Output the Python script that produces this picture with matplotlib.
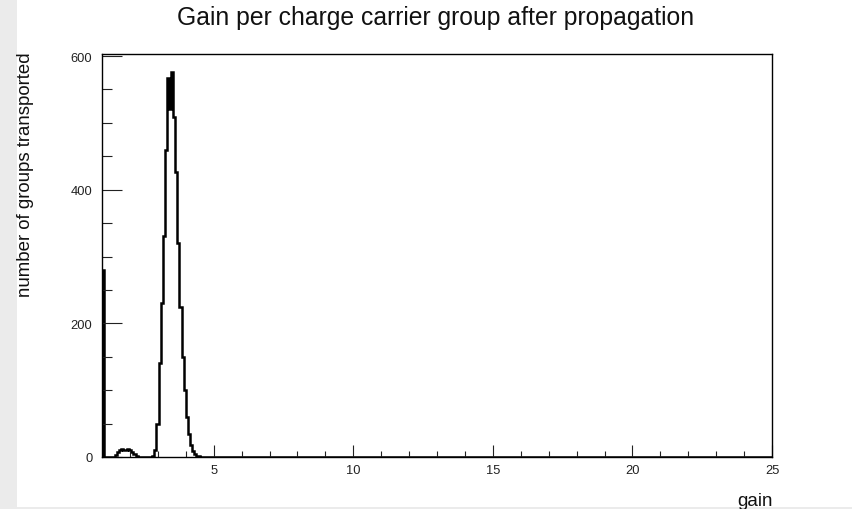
import numpy as np
import matplotlib
matplotlib.use("Agg")
import matplotlib.pyplot as plt
from matplotlib.patches import Rectangle

plt.rcParams["font.family"] = ["Liberation Sans", "DejaVu Sans"]

# histogram binning: 320 bins of 0.075 from gain 1 to 25
gain_min, gain_max, n_bins = 1.0, 25.0, 320
# bin contents for the low-gain region (bin 0 upward); all later bins are empty
low_gain_counts = [
    280, 0, 0, 0, 0, 0, 3, 8, 11, 12, 10, 11, 12, 10, 8, 5,
    2, 0, 0, 0, 0, 0, 0, 0, 2, 10, 50, 140, 230, 330, 460, 567,
    520, 576, 509, 427, 320, 225, 150, 100, 60, 35, 18, 9, 4, 2, 1,
]
x_ticks = [5, 10, 15, 20, 25]
y_ticks = [0, 200, 400, 600]

edges = np.linspace(gain_min, gain_max, n_bins + 1)
counts = np.zeros(n_bins)
counts[:len(low_gain_counts)] = low_gain_counts

W, H = 852, 510
fig = plt.figure(figsize=(W / 100, H / 100), dpi=100)
fig.patch.set_facecolor("white")
grey = "#ebebeb"
fig.add_artist(Rectangle((0, 0), 17 / W, 1, transform=fig.transFigure,
                         facecolor=grey, edgecolor="none", zorder=0))
fig.add_artist(Rectangle((0, 0), 1, 2.5 / H, transform=fig.transFigure,
                         facecolor=grey, edgecolor="none", zorder=0))

ax = fig.add_axes([102 / W, (H - 458) / H, 670 / W, 403 / H])
ax.stairs(counts, edges, baseline=0, color="black", linewidth=1.8)
ax.set_xlim(gain_min, gain_max)
ax.set_ylim(0, 603)

ax.set_xticks(x_ticks)
ax.set_xticks(np.arange(2, 26, 1), minor=True)
ax.set_yticks(y_ticks)
ax.set_yticks(np.arange(0, 601, 50), minor=True)
ax.tick_params(which="both", direction="in", top=False, right=False,
               width=0.8, color="#222222", labelsize=9.3, labelcolor="#222222")
ax.tick_params(axis="x", which="major", length=8.6, pad=5)
ax.tick_params(axis="x", which="minor", length=4.3)
ax.tick_params(axis="y", which="major", length=14.4, pad=7)
ax.tick_params(axis="y", which="minor", length=7.2)
for sp in ax.spines.values():
    sp.set_linewidth(1.0)
    sp.set_color("black")

fig.text(436 / W, 1 - 25 / H, "Gain per charge carrier group after propagation",
         ha="center", va="baseline", fontsize=17.8, color="#111111")
fig.text(26 / W, 1 - 52 / H, "number of groups transported", rotation=90,
         ha="center", va="top", fontsize=13.4, color="#111111")
fig.text(773 / W, 1 - 506 / H, "gain", ha="right", va="baseline",
         fontsize=13.5, color="#111111")

fig.savefig("out.png", dpi=100)
